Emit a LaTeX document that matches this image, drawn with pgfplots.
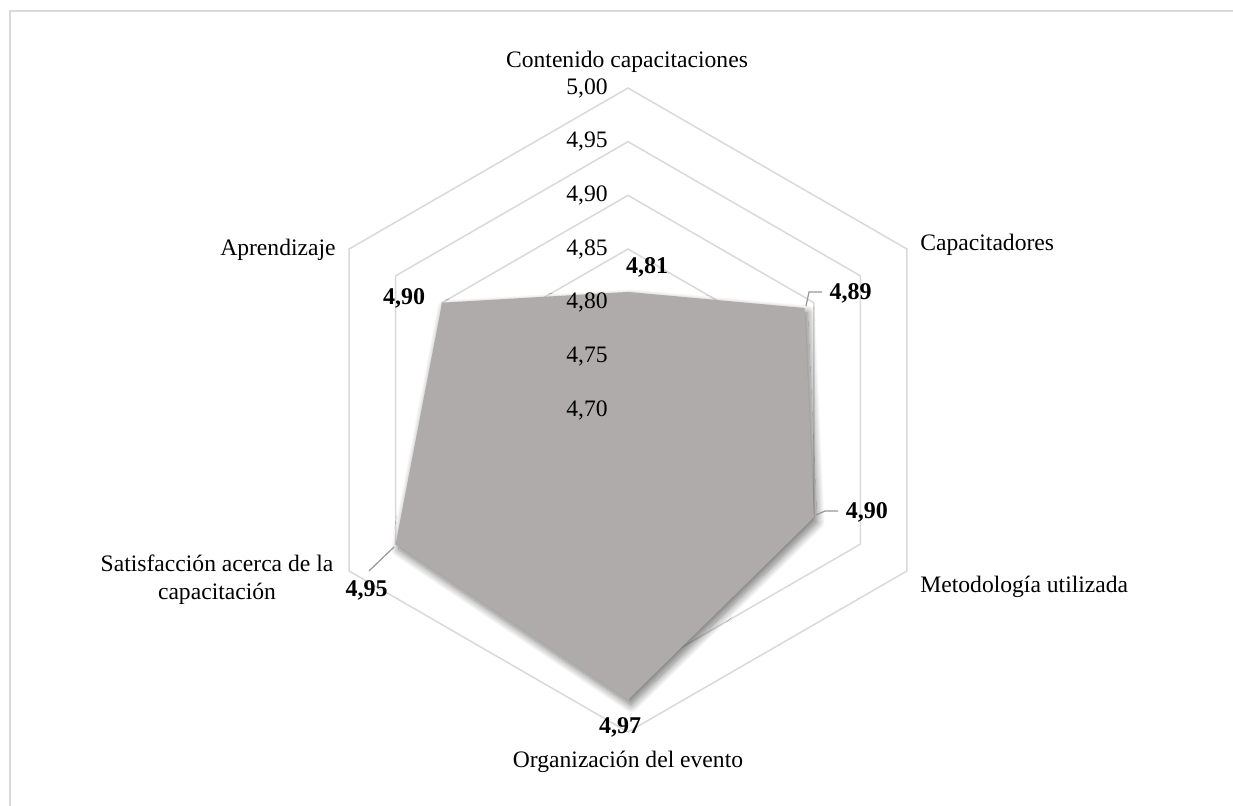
\documentclass[border=0pt]{standalone}
\usepackage{pgfplots}
\pgfplotsset{compat=1.18}
\usepackage{pgfplotstable}
\usepackage{fontspec}
\setmainfont{Liberation Serif}
\usetikzlibrary{shadows.blur}

\definecolor{ringgray}{RGB}{217,217,217}
\definecolor{areagray}{RGB}{175,171,171}
\definecolor{leadgray}{RGB}{150,150,150}

% average score per dimension; ang = direction of the spoke (degrees),
% dx/dy = offset of the value label from its vertex (pt)
\pgfplotstableread{
ang  val   lab     dx     dy
90   4.81  {4,81}  9.5    12.5
30   4.89  {4,89}  23     7.5
-30  4.90  {4,90}  26.5   2.5
-90  4.97  {4,97}  -4     -14
-150 4.95  {4,95}  -14.5  -23
150  4.90  {4,90}  -19    2
}\scores

% the six spokes of the web
\pgfplotstableread{
ang  k
90   1
30   1
-30  1
-90  1
-150 1
150  1
}\spokes

% radius of one score unit (4.70 sits at the centre, 5.00 on the outer ring)
\newcommand{\unitr}{1073.33}

\begin{document}
\begin{tikzpicture}[font=\fontsize{11.8}{14.2}\selectfont]
\begin{axis}[
  x=0.5pt, y=0.5pt,
  xmin=-628, xmax=605, ymin=-395, ymax=410,
  hide axis, clip=false,
  no markers,
]
% chart frame
\draw[ringgray, line width=0.75pt] (axis cs:-618,-400) -- (axis cs:-618,399) -- (axis cs:610,399);

% hexagonal grid rings
\pgfplotsinvokeforeach{4.75,4.80,4.85,4.90,4.95,5.00}{
  \addplot[ringgray, line width=0.75pt]
    table[x expr={(#1-4.70)*\unitr*cos(\thisrow{ang})},
          y expr={(#1-4.70)*\unitr*sin(\thisrow{ang})}]{\spokes} -- cycle;
}

% scores area
\addplot[fill=areagray, draw=none,
  blur shadow={shadow xshift=1.5pt, shadow yshift=-2.5pt,
               shadow blur radius=4pt, shadow blur steps=16, shadow opacity=55}]
  table[x expr={(\thisrow{val}-4.70)*\unitr*cos(\thisrow{ang})},
        y expr={(\thisrow{val}-4.70)*\unitr*sin(\thisrow{ang})}]{\scores} -- cycle;

% radial axis labels
\pgfplotsinvokeforeach{4.70,4.75,4.80,4.85,4.90,4.95,5.00}{
  \node[anchor=east, inner sep=0pt] at (axis cs:-20,{(#1-4.70)*\unitr})
    {\pgfmathprintnumber[use comma, fixed, fixed zerofill, precision=2, assume math mode=true]{#1}};
}

% leader lines
\draw[leadgray, line width=0.6pt] (axis cs:178,104) -- (axis cs:181,118) -- (axis cs:194,118);
\draw[leadgray, line width=0.6pt] (axis cs:188,-105) -- (axis cs:197,-101) -- (axis cs:210,-101);
\draw[leadgray, line width=0.6pt] (axis cs:-234,-137) -- (axis cs:-259,-161);

% value labels
\addplot[draw=none, nodes near coords, point meta=explicit symbolic,
  visualization depends on={\thisrow{dx}\as\dx},
  visualization depends on={\thisrow{dy}\as\dy},
  every node near coord/.append style={anchor=center, inner sep=0pt,
     xshift=\dx, yshift=\dy, font=\fontsize{12}{14.4}\selectfont\bfseries}]
  table[x expr={(\thisrow{val}-4.70)*\unitr*cos(\thisrow{ang})},
        y expr={(\thisrow{val}-4.70)*\unitr*sin(\thisrow{ang})},
        meta=lab]{\scores};

% category labels
\node[anchor=center] at (axis cs:-1,348) {Contenido capacitaciones};
\node[anchor=west, inner sep=0pt] at (axis cs:292,165) {Capacitadores};
\node[anchor=west, inner sep=0pt] at (axis cs:292,-177) {Metodología utilizada};
\node[anchor=center] at (axis cs:0,-352) {Organización del evento};
\node[anchor=center, align=center, inner sep=0pt] at (axis cs:-411,-170)
  {Satisfacción acerca de la\\capacitación};
\node[anchor=east, inner sep=0pt] at (axis cs:-292,160) {Aprendizaje};
\end{axis}
\pgfresetboundingbox
\path (current axis.south west) rectangle (current axis.north east);
\end{tikzpicture}
\end{document}
